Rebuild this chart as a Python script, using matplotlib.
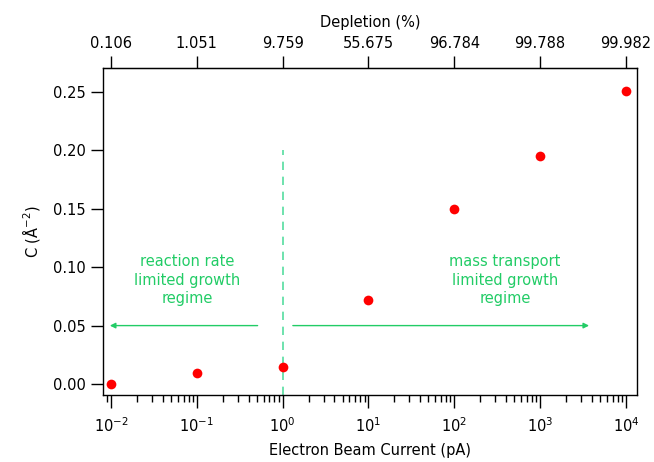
import matplotlib.pyplot as plt
import numpy as np

plt.rcParams['axes.unicode_minus'] = False

# data
current = [1e-2, 1e-1, 1e0, 1e1, 1e2, 1e3, 1e4]
coverage = [0.0, 0.0098, 0.0145, 0.072, 0.150, 0.195, 0.251]
depletion = ['0.106', '1.051', '9.759', '55.675', '96.784', '99.788', '99.982']

green = '#22cc66'

fig = plt.figure(figsize=(6.54, 4.62), dpi=100)
ax = fig.add_axes([0.1575, 0.145, 0.8165, 0.708])

ax.plot(current, coverage, 'o', color='#ff0000', markersize=7, markeredgewidth=0, zorder=3)
ax.set_xscale('log')
ax.set_xlim(10**-2.093, 10**4.128)
ax.set_ylim(-0.0094, 0.2705)
ax.set_yticks([0.0, 0.05, 0.10, 0.15, 0.20, 0.25])
ax.set_yticklabels(['0.00', '0.05', '0.10', '0.15', '0.20', '0.25'])
ax.set_xticks(current)

ax.tick_params(which='major', direction='out', length=9, width=1, labelsize=10.5)
ax.tick_params(which='minor', direction='out', length=5, width=1)
ax.tick_params(axis='x', pad=6)
for s in ax.spines.values():
    s.set_linewidth(1)

ax.set_xlabel('Electron Beam Current (pA)', fontsize=10.5, labelpad=6)
ax.set_ylabel('C (Å$^{-2}$)', fontsize=10.5, labelpad=8)

# regime boundary and arrows
ax.plot([1, 1], [-0.0094, 0.2], '--', color='#55dda0', lw=1.2, dashes=(5, 4))
ax.annotate('', xy=(0.0090, 0.05), xytext=(0.55, 0.05),
            arrowprops=dict(arrowstyle='-|>', color=green, lw=1, mutation_scale=8))
ax.annotate('', xy=(4000, 0.05), xytext=(1.22, 0.05),
            arrowprops=dict(arrowstyle='-|>', color=green, lw=1, mutation_scale=8))
ax.text(0.077, 0.089, 'reaction rate\nlimited growth\nregime', color=green,
        ha='center', va='center', fontsize=10.5, linespacing=1.3)
ax.text(389, 0.089, 'mass transport\nlimited growth\nregime', color=green,
        ha='center', va='center', fontsize=10.5, linespacing=1.3)

# top axis: depletion
top = ax.secondary_xaxis('top')
top.set_xscale('log')
top.set_xticks(current)
top.set_xticklabels(depletion)
top.xaxis.set_minor_locator(plt.NullLocator())
top.tick_params(direction='out', length=9, width=1, labelsize=10.5)
top.set_xlabel('Depletion (%)', fontsize=10.5, labelpad=6)

fig.savefig('out.png', dpi=100)
